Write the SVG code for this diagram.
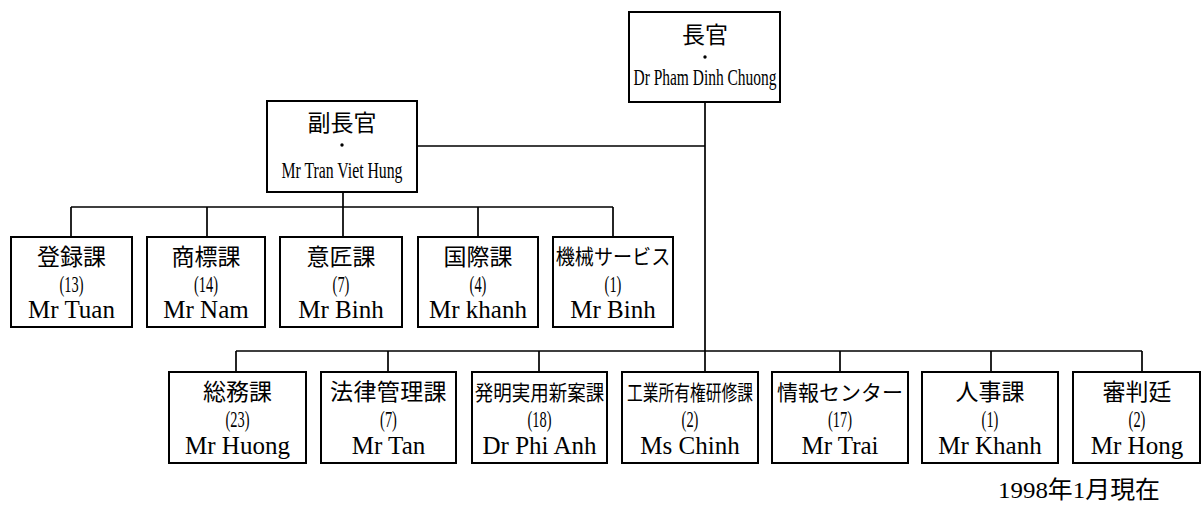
<svg xmlns="http://www.w3.org/2000/svg" width="1202" height="508" viewBox="0 0 1202 508">
<style>
.box{fill:#fff;stroke:#000;stroke-width:2}
.ln{fill:none;stroke:#000;stroke-width:1.7}
.t{font-family:"Liberation Serif","Noto Sans CJK JP",serif;fill:#000;text-anchor:middle}
.j{font-size:23px}
.k{font-size:21px}
.n{font-size:24px}
.m{font-size:25px}
</style>
<rect width="1202" height="508" fill="#fff"/>
<g id="connectors">
<path class="ln" d="M705 102V351M417 146H705M343 192V207M71 207H613M71 207V237M207 207V237M343 207V237M478 207V237M613 207V237M236 351H1142M236 351V372M388 351V372M539 351V372M705 351V372M840 351V372M991 351V372M1142 351V372"/>
</g>
<g id="chief">
<rect class="box" x="629" y="12" width="151" height="90"/>
<text class="t j" x="705" y="43">長官</text>
<circle cx="705" cy="57" r="1.7"/>
<text class="t" style="font-size:24px" x="705" y="85" textLength="143" lengthAdjust="spacingAndGlyphs">Dr Pham Dinh Chuong</text>
</g>
<g id="deputy">
<rect class="box" x="267" y="101" width="150" height="91"/>
<text class="t j" x="342" y="131">副長官</text>
<circle cx="342" cy="145" r="1.7"/>
<text class="t" style="font-size:24px" x="342" y="178" textLength="121" lengthAdjust="spacingAndGlyphs">Mr Tran Viet Hung</text>
</g>
<g id="n1">
<rect class="box" x="11" y="237" width="121" height="90"/>
<text class="t j" x="71.5" y="265">登録課</text>
<text class="t n" transform="translate(71.5,292) scale(0.6,1)">(13)</text>
<text class="t m" x="71.5" y="318">Mr Tuan</text>
</g>
<g id="n2">
<rect class="box" x="147" y="237" width="118" height="90"/>
<text class="t j" x="206" y="265">商標課</text>
<text class="t n" transform="translate(206,292) scale(0.6,1)">(14)</text>
<text class="t m" x="206" y="318">Mr Nam</text>
</g>
<g id="n3">
<rect class="box" x="280" y="237" width="122" height="90"/>
<text class="t j" x="341" y="265">意匠課</text>
<text class="t n" transform="translate(341,292) scale(0.6,1)">(7)</text>
<text class="t m" x="341" y="318">Mr Binh</text>
</g>
<g id="n4">
<rect class="box" x="418" y="237" width="120" height="90"/>
<text class="t j" x="478" y="265">国際課</text>
<text class="t n" transform="translate(478,292) scale(0.6,1)">(4)</text>
<text class="t m" x="478" y="318">Mr khanh</text>
</g>
<g id="n5">
<rect class="box" x="553" y="237" width="120" height="90"/>
<text class="t k" transform="translate(613,264) scale(0.91,1)">機械サービス</text>
<text class="t n" transform="translate(613,292) scale(0.6,1)">(1)</text>
<text class="t m" x="613" y="318">Mr Binh</text>
</g>
<g id="c1">
<rect class="box" x="169" y="372" width="137" height="91"/>
<text class="t j" x="237.5" y="400">総務課</text>
<text class="t n" transform="translate(237.5,427) scale(0.6,1)">(23)</text>
<text class="t m" x="237.5" y="454">Mr Huong</text>
</g>
<g id="c2">
<rect class="box" x="321" y="372" width="135" height="91"/>
<text class="t j" x="388.5" y="400" letter-spacing="0.4">法律管理課</text>
<text class="t n" transform="translate(388.5,427) scale(0.6,1)">(7)</text>
<text class="t m" x="388.5" y="454">Mr Tan</text>
</g>
<g id="c3">
<rect class="box" x="472" y="372" width="135" height="91"/>
<text class="t k" transform="translate(539.5,400) scale(0.88,1)">発明実用新案課</text>
<text class="t n" transform="translate(539.5,427) scale(0.6,1)">(18)</text>
<text class="t m" x="539.5" y="454">Dr Phi Anh</text>
</g>
<g id="c4">
<rect class="box" x="622" y="372" width="136" height="91"/>
<text class="t k" transform="translate(690,400) scale(0.75,1)">工業所有権研修課</text>
<text class="t n" transform="translate(690,427) scale(0.6,1)">(2)</text>
<text class="t m" x="690" y="454">Ms Chinh</text>
</g>
<g id="c5">
<rect class="box" x="772" y="372" width="136" height="91"/>
<text class="t k" x="840" y="400">情報センター</text>
<text class="t n" transform="translate(840,427) scale(0.6,1)">(17)</text>
<text class="t m" x="840" y="454">Mr Trai</text>
</g>
<g id="c6">
<rect class="box" x="922" y="372" width="136" height="91"/>
<text class="t j" x="990" y="400">人事課</text>
<text class="t n" transform="translate(990,427) scale(0.6,1)">(1)</text>
<text class="t m" x="990" y="454">Mr Khanh</text>
</g>
<g id="c7">
<rect class="box" x="1073" y="372" width="127" height="91"/>
<text class="t j" x="1137" y="400">審判廷</text>
<text class="t n" transform="translate(1137,427) scale(0.6,1)">(2)</text>
<text class="t m" x="1137" y="454">Mr Hong</text>
</g>
<text class="t" style="font-size:24px" x="1079" y="498" textLength="162" lengthAdjust="spacingAndGlyphs">1998年1月現在</text>
</svg>
